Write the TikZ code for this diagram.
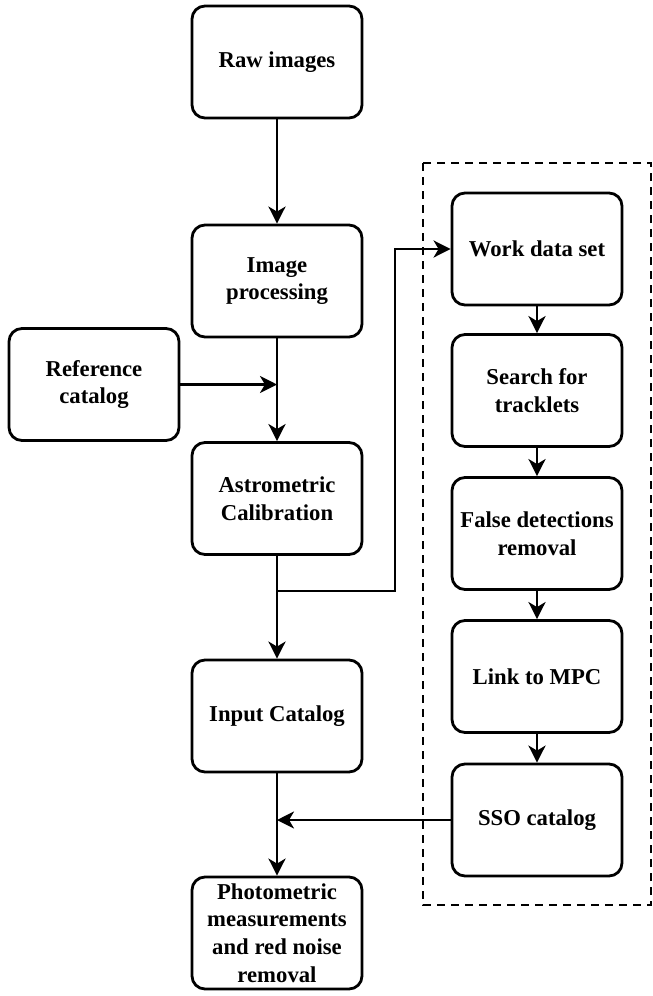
\documentclass[tikz,border=0pt]{standalone}
\usepackage{fontspec}
\setmainfont{Liberation Serif}[BoldFont={Liberation Serif Bold}]
\usetikzlibrary{arrows.meta}
\tikzstyle{stage} = [draw, rectangle, rounded corners=6.5pt, line width=1.4pt, minimum width=85pt, minimum height=56pt, inner sep=0pt, align=center, font=\fontsize{11.35}{13.8}\selectfont\bfseries]
\tikzstyle{link} = [-{Stealth[length=8.5pt, width=8.5pt, inset=2.5pt]}, line width=1.4pt]
\tikzstyle{group} = [line width=1.2pt, dash pattern=on 4pt off 3pt]

\begin{document}
\begin{tikzpicture}[x=0.5pt, y=-0.5pt]
    \useasboundingbox (0, 0) rectangle (653, 996);

    % Main pipeline.
    \node (raw) [stage] at (277, 62) {Raw images};
    \node (imgproc) [stage] at (277, 281) {Image\\processing};
    \node (refcat) [stage] at (94, 384.5) {Reference\\catalog};
    \node (astro) [stage] at (277, 498.5) {Astrometric\\Calibration};
    \node (input) [stage] at (277, 716) {Input Catalog};
    \node (photo) [stage] at (277, 933) {Photometric\\measurements\\and red noise\\removal};

    % SSO search.
    \node (work) [stage] at (537, 249) {Work data set};
    \node (search) [stage] at (537, 390.5) {Search for\\tracklets};
    \node (false) [stage] at (537, 533.5) {False detections\\removal};
    \node (mpc) [stage] at (537, 676.5) {Link to MPC};
    \node (sso) [stage] at (537, 820) {SSO catalog};

    \coordinate (box nw) at (423, 163);
    \coordinate (box se) at (651, 905);
    \draw [group] (box nw) rectangle (box se);

    % Junctions.
    \coordinate (join ref) at (refcat.east -| astro.north);
    \coordinate (split) at (277, 591);
    \coordinate (join sso) at (sso.west -| photo.north);

    % Connections.
    \draw [link] (raw) -- (imgproc);
    \draw [link] (imgproc) -- (astro);
    \draw [link] (refcat) -- (join ref);
    \draw [link] (astro) -- (input);
    \draw [link] (input) -- (photo);
    \draw [link] (split) -- ++(118, 0) |- (work.west);
    \draw [link] (sso) -- (join sso);

    \draw [link] (work) -- (search);
    \draw [link] (search) -- (false);
    \draw [link] (false) -- (mpc);
    \draw [link] (mpc) -- (sso);
\end{tikzpicture}
\end{document}
